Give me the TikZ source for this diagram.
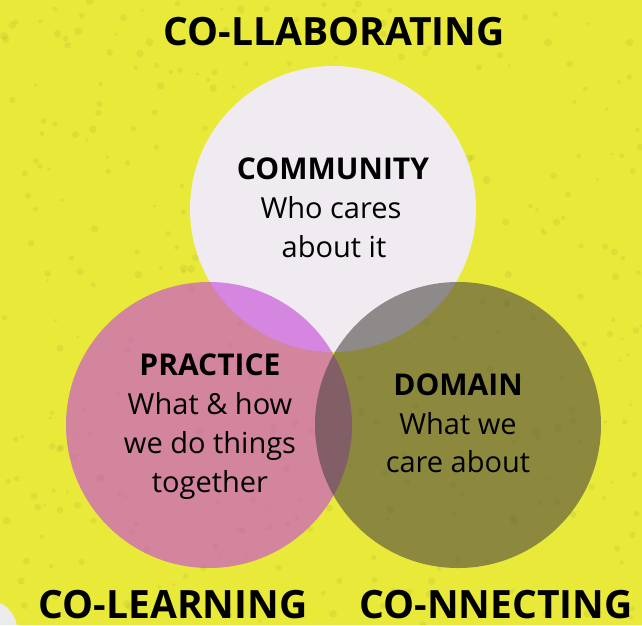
\documentclass[tikz,border=0pt]{standalone}
\usepackage{fontspec}
\setmainfont{Open Sans}
\definecolor{bgyellow}{RGB}{233,233,58}
\definecolor{lavender}{RGB}{239,235,241}
\definecolor{leftc}{RGB}{199,77,215}
\definecolor{rightc}{RGB}{74,69,65}
\tikzset{
  title/.style={anchor=base, inner sep=0pt, font=\fontsize{39}{44}\bfseries\selectfont, text=black},
  head/.style={anchor=base, inner sep=0pt, font=\fontsize{30}{36}\bfseries\selectfont, text=black},
  body/.style={anchor=base, inner sep=0pt, font=\fontsize{29}{36}\selectfont, text=black},
}
\begin{document}
\begin{tikzpicture}[x=1pt,y=-1pt]
\useasboundingbox (0,0) rectangle (642,625);
\fill[bgyellow] (0,0) rectangle (642,625);
% subtle texture
\pgfmathsetseed{42}
\foreach \i in {1,...,400}{
  \pgfmathsetmacro{\px}{rnd*642}
  \pgfmathsetmacro{\py}{rnd*625}
  \pgfmathsetmacro{\rr}{1.5+rnd*2.5}
  \fill[black!35!bgyellow, opacity=0.14] (\px,\py) circle (\rr);
}
\fill[black!8] (0,603) .. controls (8,606) and (14,614) .. (17,625) -- (0,625) -- cycle;
% circles
\node[circle, minimum size=286pt, inner sep=0pt, fill=lavender] (top) at (333,209) {};
\node[circle, minimum size=286pt, inner sep=0pt, fill=leftc, fill opacity=0.64] (left) at (209,425) {};
\node[circle, minimum size=286pt, inner sep=0pt, fill=rightc, fill opacity=0.585] (right) at (458,425) {};
% titles
\node[title] (collab) at (334,45) {CO-LLABORATING};
\node[title] (colearn) at (173,618) {CO-LEARNING};
\node[title] (connect) at (496,618) {CO-NNECTING};
% community
\node[head] (comm) at (333,179) {COMMUNITY};
\node[body] (comm1) at (331,218) {Who cares};
\node[body] (comm2) at (334,257) {about it};
% practice
\node[head] (prac) at (210,375) {PRACTICE};
\node[body] (prac1) at (210,414) {What \& how};
\node[body] (prac2) at (210,453) {we do things};
\node[body] (prac3) at (210,492) {together};
% domain
\node[head] (dom) at (458,395) {DOMAIN};
\node[body] (dom1) at (458,434) {What we};
\node[body] (dom2) at (458,472) {care about};
\end{tikzpicture}
\end{document}
